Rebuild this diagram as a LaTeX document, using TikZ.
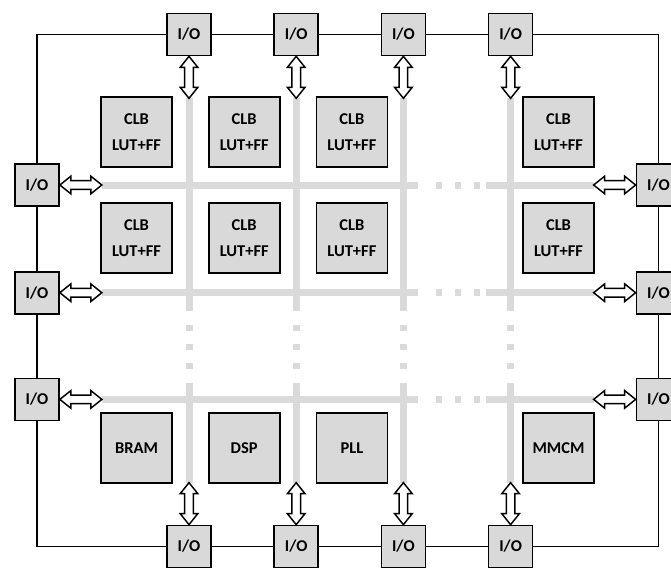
\documentclass[tikz,border=0pt]{standalone}
\usepackage{fontspec}
\setmainfont{Carlito}
\usepackage{xcolor}
\usetikzlibrary{positioning, calc, backgrounds}
\definecolor{blkgray}{HTML}{D9D9D9}
\definecolor{wiregray}{HTML}{DADADA}
% hollow two-headed block arrow from #1 to #2
\newcommand{\ahl}{11pt}
\newcommand{\ahw}{8.8pt}
\newcommand{\asw}{4.3pt}
\newcommand{\dblarrow}[2]{%
  \draw[darrow] (#1)
    -- ($(#1)!\ahl!(#2)!\ahw!90:(#2)$)
    -- ($(#1)!\ahl!(#2)!\asw!90:(#2)$)
    -- ($(#2)!\ahl!(#1)!\asw!-90:(#1)$)
    -- ($(#2)!\ahl!(#1)!\ahw!-90:(#1)$)
    -- (#2)
    -- ($(#2)!\ahl!(#1)!\ahw!90:(#1)$)
    -- ($(#2)!\ahl!(#1)!\asw!90:(#1)$)
    -- ($(#1)!\ahl!(#2)!\asw!-90:(#2)$)
    -- ($(#1)!\ahl!(#2)!\ahw!-90:(#2)$)
    -- cycle;}

\begin{document}
\begin{tikzpicture}[
    x=1pt, y=-1pt,
    box/.style={rectangle, draw=black, line width=1.7pt, fill=blkgray,
                inner sep=0pt, align=center,
                font=\bfseries\fontsize{16.5}{26}\selectfont},
    iobox/.style={box, minimum width=44pt, minimum height=42pt},
    blkbox/.style={box, minimum width=71pt, minimum height=70pt},
    frame/.style={draw=black, line width=1.8pt},
    darrow/.style={draw=black, fill=white, line width=1.5pt, line join=miter},
    hwire/.style={draw=wiregray, line width=7pt,
                  dash pattern=on 316pt off 18pt on 6pt off 13pt on 6pt off 13pt on 6pt off 6pt on 300pt},
    vwire/.style={draw=wiregray, line width=7pt,
                  dash pattern=on 213pt off 14pt on 6pt off 13pt on 6pt off 13pt on 6pt off 14pt on 300pt},
]
\useasboundingbox (0,0) rectangle (671,567);

% === I/O ring ===
\node[iobox] (t1) at (189,34.5) {I/O};
\node[iobox, right=61.5pt of t1] (t2) {I/O};
\node[iobox, right=61.5pt of t2] (t3) {I/O};
\node[iobox, right=61.5pt of t3] (t4) {I/O};
\node[iobox] (b1) at (189,546.5) {I/O};
\node[iobox, right=61.5pt of b1] (b2) {I/O};
\node[iobox, right=61.5pt of b2] (b3) {I/O};
\node[iobox, right=61.5pt of b3] (b4) {I/O};
\node[iobox] (l1) at (37,185) {I/O};
\node[iobox, below=64pt of l1] (l2) {I/O};
\node[iobox, below=63pt of l2] (l3) {I/O};
\node[iobox] (r1) at (658.5,185) {I/O};
\node[iobox, below=64pt of r1] (r2) {I/O};
\node[iobox, below=63pt of r2] (r3) {I/O};

\begin{scope}[on background layer]
\draw[frame] (l1.center) |- (t1.center) -- (t4.center) -| (r1.center)
    -- (r3.center) |- (b4.center) -- (b1.center) -| (l3.center) -- cycle;
\end{scope}

% === logic blocks ===
\node[blkbox] (c11) at (136.5,132) {CLB\\LUT+FF};
\node[blkbox, right=35pt of c11] (c12) {CLB\\LUT+FF};
\node[blkbox, right=35pt of c12] (c13) {CLB\\LUT+FF};
\node[blkbox] (c14) at (558.5,132) {CLB\\LUT+FF};
\node[blkbox] (c21) at (136.5,238) {CLB\\LUT+FF};
\node[blkbox, right=35pt of c21] (c22) {CLB\\LUT+FF};
\node[blkbox, right=35pt of c22] (c23) {CLB\\LUT+FF};
\node[blkbox] (c24) at (558.5,238) {CLB\\LUT+FF};
\node[blkbox] (bram) at (136.5,448) {BRAM};
\node[blkbox, right=35pt of bram] (dsp) {DSP};
\node[blkbox, right=35pt of dsp] (pll) {PLL};
\node[blkbox] (mmcm) at (558.5,448) {MMCM};

% === routing wires ===
\coordinate[below=42pt of t1] (v1a);
\coordinate[below=42pt of t2] (v2a);
\coordinate[below=42pt of t3] (v3a);
\coordinate[below=42pt of t4] (v4a);
\coordinate[above=42pt of b1] (v1b);
\coordinate[above=42pt of b2] (v2b);
\coordinate[above=42pt of b3] (v3b);
\coordinate[above=42pt of b4] (v4b);
\coordinate[right=42pt of l1] (h1a);
\coordinate[right=42pt of l2] (h2a);
\coordinate[right=42pt of l3] (h3a);
\coordinate[left=42pt of r1] (h1b);
\coordinate[left=42pt of r2] (h2b);
\coordinate[left=42pt of r3] (h3b);

\draw[hwire] (h1a) -- (h1b);
\draw[hwire] (h2a) -- (h2b);
\draw[hwire] (h3a) -- (h3b);
\draw[vwire] (v1a) -- (v1b);
\draw[vwire] (v2a) -- (v2b);
\draw[vwire] (v3a) -- (v3b);
\draw[vwire] (v4a) -- (v4b);

% === I/O arrows ===
\dblarrow{t1.south}{v1a}
\dblarrow{t2.south}{v2a}
\dblarrow{t3.south}{v3a}
\dblarrow{t4.south}{v4a}
\dblarrow{b1.north}{v1b}
\dblarrow{b2.north}{v2b}
\dblarrow{b3.north}{v3b}
\dblarrow{b4.north}{v4b}
\dblarrow{l1.east}{h1a}
\dblarrow{l2.east}{h2a}
\dblarrow{l3.east}{h3a}
\dblarrow{r1.west}{h1b}
\dblarrow{r2.west}{h2b}
\dblarrow{r3.west}{h3b}

\end{tikzpicture}
\end{document}
